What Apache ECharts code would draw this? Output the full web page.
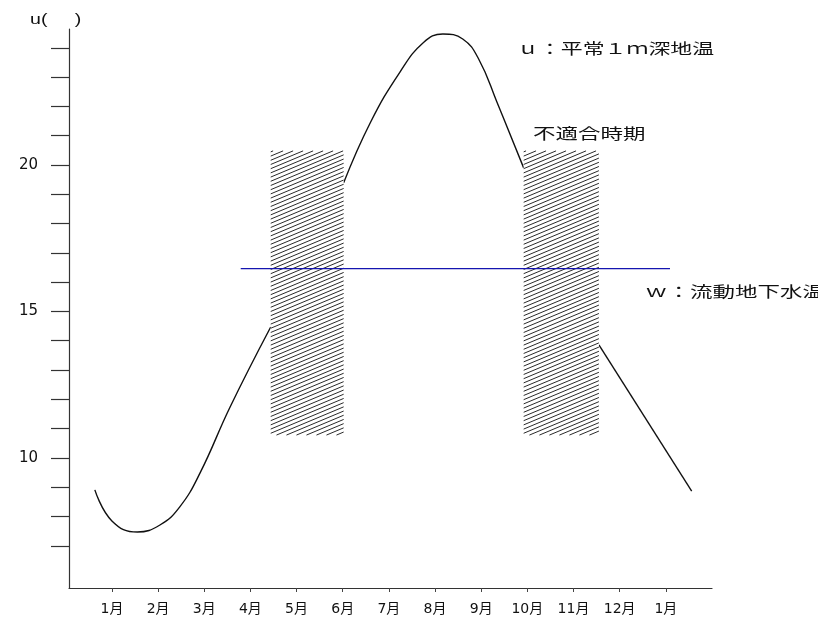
<!DOCTYPE html>
<html><head><meta charset="utf-8">
<script src="https://cdn.jsdelivr.net/npm/echarts@6/dist/echarts.min.js"></script>
<style>html,body{margin:0;padding:0;background:#fff}#c{width:818px;height:622px}</style>
</head><body><div id="c"></div>
<script>
// x axis: month index (0 = first 1月 tick)
const monthLabels = ['1月','2月','3月','4月','5月','6月','7月','8月','9月','10月','11月','12月','1月'];
const monthTicks = [0,1,2,3,4,5,6,7,8,9,10,11,12];
const yTickValues = [7,8,9,10,11,12,13,14,15,16,17,18,19,20,21,22,23,24];
const yLabelValues = [10,15,20];

// u: 平常1m深地温 (visible segments)
const soilSeg1X = [-0.37,0.0,0.55,1.04,1.47,1.91,2.56,3.44];
const soilSeg1Y = [8.91,7.85,7.47,7.71,8.33,9.49,11.74,14.47];
const soilSeg2X = [5.02,5.6,6.24,6.75,7.17,7.6,7.95,8.34,8.92];
const soilSeg2Y = [19.39,21.45,23.17,24.18,24.47,24.3,23.6,22.15,19.9];
const soilSeg3X = [10.55,12.56];
const soilSeg3Y = [13.86,8.87];

// w: 流動地下水温
const waterTemp = 16.46;
const waterFrom = 2.79;
const waterTo = 12.09;

// 不適合時期 periods
const unsuitStart = [3.44, 8.92];
const unsuitEnd = [5.02, 10.55];
const unsuitLow = 10.78;
const unsuitHigh = 20.48;

const toPairs = (xs, ys) => xs.map((x, i) => [x, ys[i]]);

const chart = echarts.init(document.getElementById('c'));
const lineStyleU = {color: '#111', width: 1.4};
const curve = (xs, ys) => ({
  type: 'line', data: toPairs(xs, ys), smooth: 0.45, showSymbol: false,
  lineStyle: lineStyleU, itemStyle: {color: '#111'}, z: 2, silent: true
});

chart.setOption({
  animation: false,
  backgroundColor: '#fff',
  grid: {left: 69, top: 29, right: 106, bottom: 34, containLabel: false},
  xAxis: {
    type: 'value', min: -0.93, max: 13.0,
    axisLine: {show: true, onZero: false, lineStyle: {color: '#333', width: 1.2}},
    axisTick: {show: true, customValues: monthTicks, length: 4, lineStyle: {color: '#444'}},
    axisLabel: {
      customValues: monthTicks, margin: 14,
      formatter: v => monthLabels[Math.round(v)],
      fontSize: 14, color: '#111', fontFamily: '"DejaVu Sans", "Noto Sans CJK JP", sans-serif'
    },
    splitLine: {show: false}
  },
  yAxis: {
    type: 'value', min: 5.56, max: 24.64,
    axisLine: {show: true, onZero: false, lineStyle: {color: '#333', width: 1.2}},
    axisTick: {show: true, customValues: yTickValues, length: 18, lineStyle: {color: '#333', width: 1.2}},
    axisLabel: {
      customValues: yLabelValues, margin: 31,
      fontSize: 15, color: '#111', fontFamily: '"DejaVu Sans", sans-serif'
    },
    splitLine: {show: false}
  },
  graphic: [
    {type: 'text', x: 30, y: 20, scaleX: 1.4, silent: true,
     style: {text: 'u(     )', font: '14px "Liberation Sans"', fill: '#111', verticalAlign: 'middle'}},
    {type: 'text', x: 517, y: 48, scaleX: 1.46, silent: true,
     style: {text: 'ｕ：平常１ｍ深地温', font: '15px "Noto Sans CJK JP"', fill: '#111', verticalAlign: 'middle'}},
    {type: 'text', x: 533, y: 133, scaleX: 1.5, silent: true,
     style: {text: '不適合時期', font: '15px "Noto Sans CJK JP"', fill: '#111', verticalAlign: 'middle'}},
    {type: 'text', x: 645, y: 291, scaleX: 1.5, silent: true,
     style: {text: 'ｗ：流動地下水温', font: '15px "Noto Sans CJK JP"', fill: '#111', verticalAlign: 'middle'}}
  ],
  series: [
    curve(soilSeg1X, soilSeg1Y),
    curve(soilSeg2X, soilSeg2Y),
    curve(soilSeg3X, soilSeg3Y),
    {
      type: 'custom', z: 3, clip: false, silent: true,
      data: unsuitStart.map((s, i) => [s, unsuitEnd[i], unsuitLow, unsuitHigh]),
      encode: {x: [0, 1], y: [2, 3]},
      renderItem: (params, api) => {
        const p0 = api.coord([api.value(0), api.value(3)]);
        const p1 = api.coord([api.value(1), api.value(2)]);
        const x0 = p0[0], y0 = p0[1], x1 = p1[0], y1 = p1[1];
        const w = x1 - x0;
        const children = [{type: 'rect', shape: {x: x0, y: y0, width: w, height: y1 - y0}, style: {fill: '#fff'}}];
        const k = 0.42, gap = 4.2;
        for (let c = y0 + 1; c <= y1 + k * w; c += gap) {
          let xa = x0, ya = c, xb = x1, yb = c - k * w;
          if (ya > y1) { xa = x0 + (ya - y1) / k; ya = y1; }
          if (yb < y0) { xb = x0 + (c - y0) / k; yb = y0; }
          if (xa < xb) children.push({type: 'line', shape: {x1: xa, y1: ya, x2: xb, y2: yb}, style: {stroke: '#2a2a2a', lineWidth: 1}});
        }
        return {type: 'group', children};
      }
    },
    {
      type: 'line', data: [[waterFrom, waterTemp], [waterTo, waterTemp]], showSymbol: false, z: 4,
      lineStyle: {color: '#1515b0', width: 1.2}, itemStyle: {color: '#1515b0'}, silent: true
    }
  ]
});
</script></body></html>
